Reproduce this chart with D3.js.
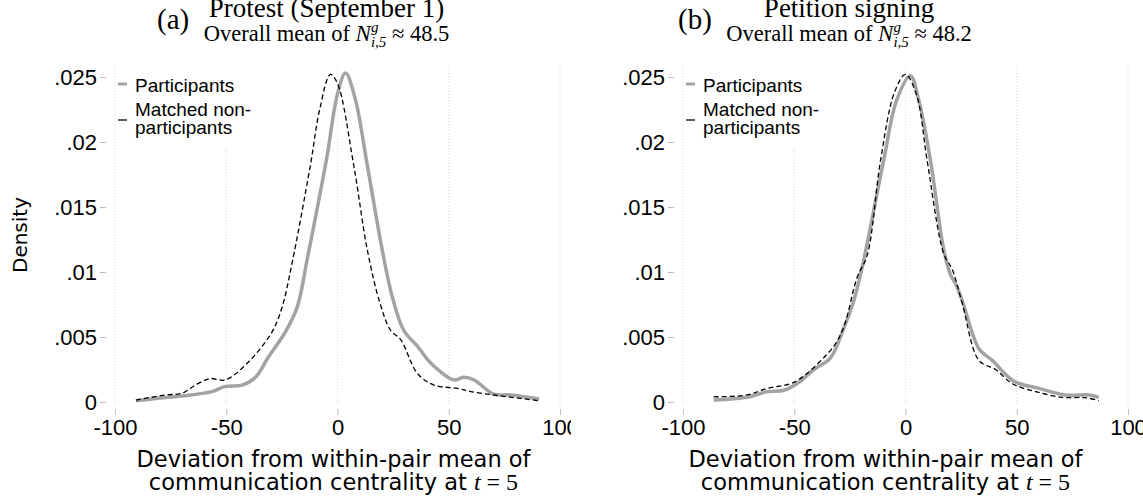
<!DOCTYPE html>
<html><head><meta charset="utf-8">
<script src="https://cdn.jsdelivr.net/npm/d3@7"></script>
<style>body{margin:0;background:#fff}svg{display:block}</style>
</head><body>
<script>
// ---------------- DATA ----------------
const xTicks = [-100, -50, 0, 50, 100];
const xTickLabels = ["-100", "-50", "0", "50", "100"];
const yTicks = [0, 0.005, 0.01, 0.015, 0.02, 0.025];
const yTickLabels = ["0", ".005", ".01", ".015", ".02", ".025"];
const seriesNames = ["Participants", "Matched non-participants"];

const panelLetters = ["(a)", "(b)"];
const panelTitles = ["Protest (September 1)", "Petition signing"];
const panelMeans = ["48.5", "48.2"];

// (a) Protest — participants
const protestPartX = [-90.6, -80, -69.9, -56.4, -50.4, -42.9, -36.9, -30.9, -23.4, -18.1, -13.6, -9, -4.6, 0, 3.6, 8, 13.4, 20.1, 24.6, 29.8, 35.9, 41.9, 52.3, 56.8, 61.3, 70.3, 77.8, 90.6];
const protestPartY = [0.0001, 0.0003, 0.00046, 0.0008, 0.0012, 0.0013, 0.0019, 0.0035, 0.0054, 0.0073, 0.0110, 0.0150, 0.0190, 0.0237, 0.0253, 0.0233, 0.0182, 0.0117, 0.0081, 0.0055, 0.0043, 0.0030, 0.0017, 0.0019, 0.0017, 0.0006, 0.00054, 0.00023];
// (a) Protest — matched non-participants
const protestNonX = [-90.6, -77.4, -69.9, -63.9, -57.2, -50.4, -39.9, -29.4, -24.9, -20.4, -12.2, -8, -3.2, 0, 7.3, 13.4, 19.1, 23.9, 28.4, 35.9, 43.3, 53.9, 59.9, 71.9, 90.6];
const protestNonY = [0.00015, 0.00054, 0.00067, 0.0013, 0.0018, 0.0017, 0.0031, 0.0054, 0.0073, 0.0107, 0.0182, 0.0225, 0.0252, 0.0245, 0.0182, 0.0117, 0.0076, 0.0055, 0.0048, 0.0022, 0.0013, 0.00105, 0.0008, 0.0005, 0.0001];

// (b) Petition — participants
const petitionPartX = [-86.2, -71.2, -62.2, -54.7, -47.2, -41.2, -33.7, -27.7, -23.2, -18.8, -9.8, -4, 2.2, 6, 11.2, 17.2, 20.2, 22.5, 25.5, 33, 39, 48.7, 59.9, 71.9, 82.4, 86.9];
const petitionPartY = [0.00015, 0.00036, 0.0008, 0.0009, 0.0016, 0.0025, 0.0034, 0.0057, 0.0078, 0.0109, 0.0186, 0.0232, 0.0251, 0.0232, 0.0186, 0.0117, 0.0098, 0.0091, 0.0078, 0.0041, 0.0032, 0.0016, 0.00105, 0.00054, 0.00054, 0.00036];
// (b) Petition — matched non-participants
const petitionNonX = [-86.2, -71.2, -62.2, -51.7, -45.7, -32.2, -27.7, -21.7, -17.2, -11.2, -5, 0, 5, 9.7, 17.2, 21, 25.5, 33, 40.5, 48, 58.5, 70.5, 80.9, 86.9];
const petitionNonY = [0.0004, 0.00054, 0.00105, 0.0014, 0.0020, 0.0043, 0.0058, 0.0096, 0.0113, 0.0186, 0.0238, 0.0252, 0.0236, 0.0186, 0.0114, 0.0102, 0.0076, 0.0032, 0.0025, 0.0014, 0.0008, 0.00036, 0.00033, 0.0001];

// ---------------- LAYOUT ----------------
const W = 1143, H = 501;
const SANS = "'Liberation Sans', Arial, Helvetica, sans-serif";
const TSANS = "'DejaVu Sans', sans-serif";
const SERIF = "'Liberation Serif', 'Times New Roman', serif";
const panels = [
  { px0: 115, px1: 560, letterX: 157, titleCx: 326.5, xTitleCx: 333.5, showYTitle: true,
    part: [protestPartX, protestPartY], non: [protestNonX, protestNonY] },
  { px0: 683, px1: 1128, letterX: 678, titleCx: 849, xTitleCx: 885.5, showYTitle: false,
    part: [petitionPartX, petitionPartY], non: [petitionNonX, petitionNonY] }
];

const svg = d3.select("body").append("svg").attr("width", W).attr("height", H);

// rich text helper: lays out segments left to right, centred at cx
function richText(parent, segs, cx, y) {
  const g = parent.append("g");
  let cursor = 0, prevStart = 0, prevW = 0;
  segs.forEach(s => {
    let x = cursor;
    if (s.stack) x = prevStart;
    const t = g.append("text").attr("x", x).attr("y", y + (s.dy || 0))
      .attr("font-family", s.family).attr("font-size", s.size)
      .attr("font-style", s.italic ? "italic" : "normal")
      .attr("fill", "#000").style("white-space", "pre").text(s.t);
    const w = t.node().getComputedTextLength();
    if (s.stack) {
      cursor = Math.max(prevStart + prevW, prevStart + w);
    } else {
      prevStart = x; prevW = w; cursor = x + w;
    }
  });
  g.attr("transform", `translate(${cx - cursor / 2},0)`);
  return g;
}

const yScale = d3.scaleLinear().domain([0, 0.025]).range([402, 77]);

panels.forEach((p, i) => {
  const clipId = "clip" + i;
  svg.append("clipPath").attr("id", clipId).append("rect")
    .attr("x", i === 0 ? 0 : 571).attr("y", 0).attr("width", i === 0 ? 571 : 572).attr("height", H);
  const g = svg.append("g").attr("clip-path", `url(#${clipId})`);
  const x = d3.scaleLinear().domain([-100, 100]).range([p.px0, p.px1]);

  // gridlines
  g.append("g").selectAll("line").data(xTicks).join("line")
    .attr("x1", d => x(d)).attr("x2", d => x(d)).attr("y1", 67).attr("y2", 406)
    .attr("stroke", "#d8d8d8").attr("stroke-width", 1).attr("stroke-dasharray", "1,2");

  // y axis
  const yAx = g.append("g").attr("transform", `translate(${x(-100) - 9},0)`)
    .call(d3.axisLeft(yScale).tickValues(yTicks).tickFormat((d, k) => yTickLabels[k]).tickSize(6).tickPadding(3));
  yAx.select(".domain").remove();
  yAx.selectAll(".tick line").attr("stroke", "#bdbdbd");
  yAx.selectAll(".tick text").attr("font-family", SANS).attr("font-size", 22).attr("fill", "#000");

  // x axis
  const xAx = g.append("g").attr("transform", `translate(0,409)`)
    .call(d3.axisBottom(x).tickValues(xTicks).tickFormat((d, k) => xTickLabels[k]).tickSize(6).tickPadding(4));
  xAx.select(".domain").remove();
  xAx.selectAll(".tick line").attr("stroke", "#bdbdbd");
  xAx.selectAll(".tick text").attr("font-family", SANS).attr("font-size", 22).attr("fill", "#000");

  // curves
  const line = d3.line().x(d => x(d[0])).y(d => yScale(d[1])).curve(d3.curveCatmullRom.alpha(0.5));
  const partPts = p.part[0].map((v, k) => [v, p.part[1][k]]);
  const nonPts = p.non[0].map((v, k) => [v, p.non[1][k]]);
  g.append("path").datum(partPts).attr("d", line).attr("fill", "none")
    .attr("stroke", "#a3a3a3").attr("stroke-width", 3.5).attr("stroke-linejoin", "round");
  g.append("path").datum(nonPts).attr("d", line).attr("fill", "none")
    .attr("stroke", "#000").attr("stroke-width", 1.3).attr("stroke-dasharray", "5,3");

  // legend
  const lx = x(-100) + 2;
  const lg = g.append("g");
  lg.append("rect").attr("x", lx).attr("y", 66).attr("width", 146).attr("height", 80).attr("fill", "#fff");
  lg.append("line").attr("x1", lx + 1).attr("x2", lx + 10).attr("y1", 84).attr("y2", 84)
    .attr("stroke", "#a3a3a3").attr("stroke-width", 3);
  lg.append("line").attr("x1", lx + 1).attr("x2", lx + 10).attr("y1", 120).attr("y2", 120)
    .attr("stroke", "#000").attr("stroke-width", 1.3);
  lg.append("text").attr("x", lx + 18).attr("y", 92).attr("font-family", SANS).attr("font-size", 19).text(seriesNames[0]);
  const t2 = lg.append("text").attr("x", lx + 18).attr("y", 116).attr("font-family", SANS).attr("font-size", 19);
  t2.append("tspan").attr("x", lx + 18).text("Matched non-");
  t2.append("tspan").attr("x", lx + 18).attr("dy", 18).text("participants");

  // titles
  g.append("text").attr("x", p.letterX).attr("y", 29).attr("font-family", SERIF).attr("font-size", 29).text(panelLetters[i]);
  g.append("text").attr("x", p.titleCx).attr("y", 17).attr("text-anchor", "middle")
    .attr("font-family", SERIF).attr("font-size", 27).text(panelTitles[i]);
  richText(g, [
    { t: "Overall mean of ", family: SERIF, size: 22.5 },
    { t: "N", family: SERIF, size: 23, italic: true },
    { t: "g", family: SERIF, size: 15, italic: true, dy: -9 },
    { t: "i,5", family: SERIF, size: 15, italic: true, dy: 6, stack: true },
    { t: " ≈ " + panelMeans[i], family: SERIF, size: 22.5 }
  ], p.titleCx, 41);

  // x axis title
  richText(g, [{ t: "Deviation from within-pair mean of", family: TSANS, size: 22.5 }], p.xTitleCx, 467);
  richText(g, [
    { t: "communication centrality at ", family: TSANS, size: 22.5 },
    { t: "t", family: SERIF, size: 24, italic: true },
    { t: " = 5", family: SERIF, size: 24 }
  ], p.xTitleCx, 490);

  if (p.showYTitle) {
    g.append("text").attr("transform", `translate(27,235) rotate(-90)`).attr("text-anchor", "middle")
      .attr("font-family", TSANS).attr("font-size", 20).text("Density");
  }
});
</script>
</body></html>
